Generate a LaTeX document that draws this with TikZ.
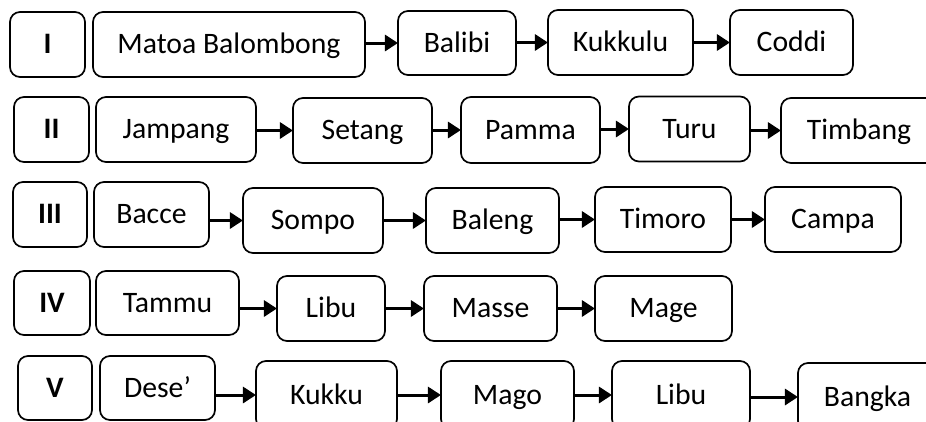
\documentclass[tikz,border=0pt]{standalone}
\usepackage{fontspec}
\setmainfont{Carlito}
\usetikzlibrary{arrows.meta}
\tikzset{
  box/.style={draw=black, line width=1.7pt, rounded corners=10pt, inner sep=0pt,
    font=\fontsize{29.7}{34}\selectfont, minimum height=65pt,
    text height=18.8pt, text depth=0pt},
  lbl/.style={box, font=\fontsize{29.7}{34}\selectfont\bfseries},
  arr/.style={line width=3pt, -{Triangle[length=13pt,width=16pt]}, shorten <=-0.8pt, shorten >=-0.8pt}
}
\begin{document}
\begin{tikzpicture}[x=1pt,y=-1pt]
\useasboundingbox (0,0) rectangle (926,421);
\begin{scope}
\clip (0,0) rectangle (926,421);
% Row I
\node[lbl, minimum width=75pt] (r1) at (47.5,44.5) {I};
\node[box, minimum width=272pt] (a1) at (229,44.5) {Matoa Balombong};
\node[box, minimum width=118pt, minimum height=64pt] (a2) at (457,43) {Balibi};
\node[box, minimum width=145pt] (a3) at (620.5,42.5) {Kukkulu};
\node[box, minimum width=123pt] (a4) at (791.5,42.5) {Coddi};
% Row II
\node[lbl, minimum width=75pt] (r2) at (51.5,129.5) {II};
\node[box, minimum width=160pt] (b1) at (176,129.5) {Jampang};
\node[box, minimum width=139pt] (b2) at (362.5,130.5) {Setang};
\node[box, minimum width=139pt, minimum height=66pt] (b3) at (530.5,130) {Pamma};
\node[box, minimum width=121pt] (b4) at (689.5,129) {Turu};
\node[box, minimum width=156pt] (b5) at (859,130.5) {Timbang};
% Row III
\node[lbl, minimum width=74pt] (r3) at (50,214.5) {III};
\node[box, minimum width=115pt] (c1) at (151.5,214.5) {Bacce};
\node[box, minimum width=140pt] (c2) at (313,220.5) {Sompo};
\node[box, minimum width=133pt] (c3) at (492.5,220.5) {Baleng};
\node[box, minimum width=136pt] (c4) at (663,219.5) {Timoro};
\node[box, minimum width=136pt] (c5) at (833,219.5) {Campa};
% Row IV
\node[lbl, minimum width=76pt, minimum height=64pt] (r4) at (52,303) {IV};
\node[box, minimum width=143pt, minimum height=64pt] (d1) at (167.5,303) {Tammu};
\node[box, minimum width=108pt] (d2) at (331,308.5) {Libu};
\node[box, minimum width=133pt] (d3) at (490.5,308.5) {Masse};
\node[box, minimum width=137pt] (d4) at (663.5,308.5) {Mage};
% Row V
\node[lbl, minimum width=74pt, minimum height=64pt] (r5) at (55,388) {V};
\node[box, minimum width=115pt, minimum height=64pt] (e1) at (157.5,388) {Dese’};
\node[box, minimum width=141pt, minimum height=68pt] (e2) at (326.5,395) {Kukku};
\node[box, minimum width=133pt, minimum height=68pt] (e3) at (507.5,395) {Mago};
\node[box, minimum width=138pt, minimum height=68pt] (e4) at (681,395) {Libu};
\node[box, minimum width=139pt, minimum height=68pt] (e5) at (867.5,397) {Bangka};
% Arrows
\draw[arr] (a1.east |- a2.west) -- (a2.west);
\draw[arr] (a2.east |- a3.west) -- (a3.west);
\draw[arr] (a3.east |- a4.west) -- (a4.west);
\draw[arr] (b1.east |- b2.west) -- (b2.west);
\draw[arr] (b2.east |- b3.west) -- (b3.west);
\draw[arr] (b3.east |- b4.west) -- (b4.west);
\draw[arr] (b4.east |- b5.west) -- (b5.west);
\draw[arr] (c1.east |- c2.west) -- (c2.west);
\draw[arr] (c2.east |- c3.west) -- (c3.west);
\draw[arr] (c3.east |- c4.west) -- (c4.west);
\draw[arr] (c4.east |- c5.west) -- (c5.west);
\draw[arr] (d1.east |- d2.west) -- (d2.west);
\draw[arr] (d2.east |- d3.west) -- (d3.west);
\draw[arr] (d3.east |- d4.west) -- (d4.west);
\draw[arr] (e1.east |- e2.west) -- (e2.west);
\draw[arr] (e2.east |- e3.west) -- (e3.west);
\draw[arr] (e3.east |- e4.west) -- (e4.west);
\draw[arr] (e4.east |- e5.west) -- (e5.west);
\end{scope}
\end{tikzpicture}
\end{document}
